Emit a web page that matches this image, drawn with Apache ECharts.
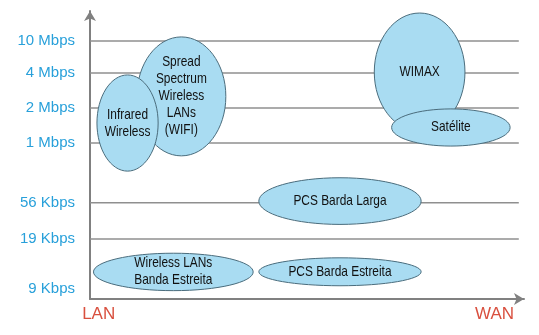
<!DOCTYPE html>
<html><head><meta charset="utf-8">
<script src="https://cdn.jsdelivr.net/npm/echarts@6/dist/echarts.min.js"></script>
<style>html,body{margin:0;padding:0;background:#fff}#c{width:539px;height:335px}</style>
</head><body><div id="c"></div>
<script>
// Y axis (data rate) levels and labels
const rateLabels = ['9 Kbps', '19 Kbps', '56 Kbps', '1 Mbps', '2 Mbps', '4 Mbps', '10 Mbps'];
const rateLevels = [3.4, 20.8, 33.4, 54.2, 66.3, 78.5, 89.6];
const gridLevels = [20.8, 33.4, 54.2, 66.3, 78.5, 89.6];
// X axis (coverage) labels
const coverageLabels = ['LAN', 'WAN'];
const coverageLevels = [2.0, 93.2];
// Technologies: coverage range (x) and rate range (y)
const techNames = ['Spread\nSpectrum\nWireless\nLANs\n(WIFI)', 'Infrared\nWireless', 'WIMAX', 'Satélite',
  'PCS Barda Larga', 'PCS Barda Estreita', 'Wireless LANs\nBanda Estreita'];
const coverageMin = [10.8, 1.6, 65.5, 69.5, 38.9, 38.9, 0.8];
const coverageMax = [31.3, 15.7, 86.4, 96.8, 76.3, 76.3, 37.6];
const rateMin = [49.7, 44.4, 58.3, 53.1, 25.9, 4.6, 2.9];
const rateMax = [91.0, 77.8, 99.3, 66.0, 42.1, 14.3, 15.9];

const FONT = "'Liberation Sans',Arial,sans-serif";
const GRID_END = 98.8;

const techData = techNames.map((n, i) => [coverageMin[i], coverageMax[i], rateMin[i], rateMax[i]]);

const chart = echarts.init(document.getElementById('c'), null, {renderer: 'canvas'});
chart.setOption({
  animation: false,
  grid: {left: 90, right: 15, top: 11, bottom: 36},
  xAxis: {
    type: 'value', min: 0, max: 100,
    axisLine: {show: true, symbol: ['none', 'arrow'], symbolSize: [9, 10], lineStyle: {color: '#808080', width: 2}},
    axisTick: {show: false},
    splitLine: {show: false},
    axisLabel: {
      customValues: coverageLevels,
      formatter: v => { const k = coverageLevels.indexOf(v); return k >= 0 ? coverageLabels[k] : ''; },
      color: '#d9503f', fontSize: 17, fontFamily: FONT, margin: 7
    }
  },
  yAxis: {
    type: 'value', min: 0, max: 100,
    axisLine: {show: true, symbol: ['none', 'arrow'], symbolSize: [9, 10], lineStyle: {color: '#808080', width: 2}},
    axisTick: {show: false},
    splitLine: {show: false},
    axisLabel: {
      customValues: rateLevels,
      formatter: v => { const k = rateLevels.indexOf(v); return k >= 0 ? rateLabels[k] : ''; },
      color: '#28a0da', fontSize: 15, fontFamily: FONT, margin: 15
    }
  },
  series: [
    {
      type: 'custom', z: 1, silent: true,
      data: gridLevels.map(v => [v]),
      encode: {y: 0},
      renderItem: (params, api) => {
        const v = api.value(0);
        const a = api.coord([0, v]), b = api.coord([GRID_END, v]);
        return {type: 'line', shape: {x1: a[0], y1: a[1], x2: b[0], y2: b[1]},
          style: {stroke: '#8f8f8f', lineWidth: 1.5}};
      }
    },
    {
      type: 'custom', z: 3, silent: true,
      data: techData,
      encode: {x: [0, 1], y: [2, 3]},
      renderItem: (params, api) => {
        const i = params.dataIndex;
        const p0 = api.coord([api.value(0), api.value(2)]);
        const p1 = api.coord([api.value(1), api.value(3)]);
        const cx = (p0[0] + p1[0]) / 2, cy = (p0[1] + p1[1]) / 2;
        return {type: 'group', children: [
          {type: 'ellipse', shape: {cx: cx, cy: cy, rx: Math.abs(p1[0] - p0[0]) / 2, ry: Math.abs(p1[1] - p0[1]) / 2},
            style: {fill: '#a9dcf2', stroke: '#4a6c7c', lineWidth: 1}},
          {type: 'text', x: cx, y: cy, scaleX: 0.82,
            style: {text: techNames[i], fill: '#111', fontSize: 14.5, fontFamily: FONT,
              align: 'center', verticalAlign: 'middle', lineHeight: 17}}
        ]};
      }
    }
  ]
});
</script>
</body></html>
